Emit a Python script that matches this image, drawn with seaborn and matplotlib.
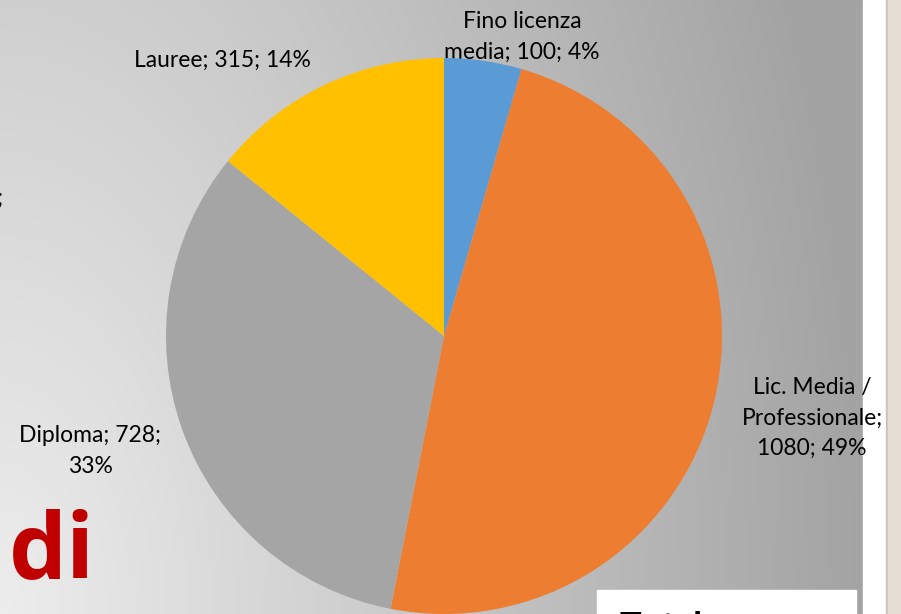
import numpy as np
import matplotlib
matplotlib.use("Agg")
import matplotlib.pyplot as plt
import seaborn as sns
from matplotlib.patches import Rectangle

categories = ["Fino licenza\nmedia", "Lic. Media /\nProfessionale", "Diploma", "Lauree"]
values = [100, 1080, 728, 315]
percents = [4, 49, 33, 14]
colors = ["#5B9BD5", "#ED7D31", "#A5A5A5", "#FFC000"]

sns.set_theme(style="white")
plt.rcParams['font.family'] = ['Lato', 'DejaVu Sans']

W, H = 901, 614
fig = plt.figure(figsize=(W / 100, H / 100), dpi=100)

# background gradient (slide)
bg = fig.add_axes([0, 0, 1, 1])
xs = np.linspace(0, 1, W)[None, :] * (W / 863)
ys = np.linspace(0, 1, H)[:, None]  # 0 top -> 1 bottom
d = np.sqrt(xs ** 2 + (0.4 * (1 - ys)) ** 2)
val = 0.93 - 0.29 * np.clip(d, 0, 1)
img = np.dstack([val, val, val])
bg.imshow(img, extent=[0, W, H, 0], aspect='auto')
bg.set_xlim(0, W)
bg.set_ylim(H, 0)
bg.axis('off')
# right strips
bg.add_patch(Rectangle((863, 0), 23, H, color='white', zorder=2))
bg.add_patch(Rectangle((886, 0), 1.5, H, color='#c9c4bd', zorder=2))
bg.add_patch(Rectangle((887.5, 0), W - 887.5, H, color='#E6DED5', zorder=2))
# white box bottom right
bg.add_patch(Rectangle((597, 590), 259, 30, color='white', zorder=2))
bg.text(619, 611.5, "Totale", fontsize=26, fontweight='bold', color='black',
        va='top', ha='left', zorder=3, clip_on=True)
bg.text(9, 578, "di", fontsize=66, fontweight='bold', color='#C00000',
        va='baseline', ha='left', family=['Open Sans', 'DejaVu Sans'], zorder=3)
bg.text(3, 198, ";", fontsize=17, color='black', va='center', ha='right', zorder=3)

# pie
cx, cy, r = 444, 336, 278
ax = fig.add_axes([(cx - r) / W, (H - cy - r) / H, 2 * r / W, 2 * r / H])
ax.pie(values, colors=colors, startangle=90, counterclock=False,
       wedgeprops=dict(linewidth=0))
ax.set_xlim(-1, 1)
ax.set_ylim(-1, 1)
ax.set_aspect('auto')
ax.axis('off')

# labels (pixel positions in background axes)
label_pos = [(522, 37), (812, 418), (90, 451), (222, 60)]
for cat, v, p, (lx, ly) in zip(categories, values, percents, label_pos):
    if cat.startswith("Lic"):
        txt = f"{cat};\n{v}; {p}%"
    elif cat == "Diploma":
        txt = f"{cat}; {v};\n{p}%"
    else:
        txt = f"{cat}; {v}; {p}%"
    bg.text(lx, ly, txt, fontsize=16.5, color='black', ha='center', va='center',
            linespacing=1.55, zorder=5)

fig.savefig("out.png", dpi=100)
